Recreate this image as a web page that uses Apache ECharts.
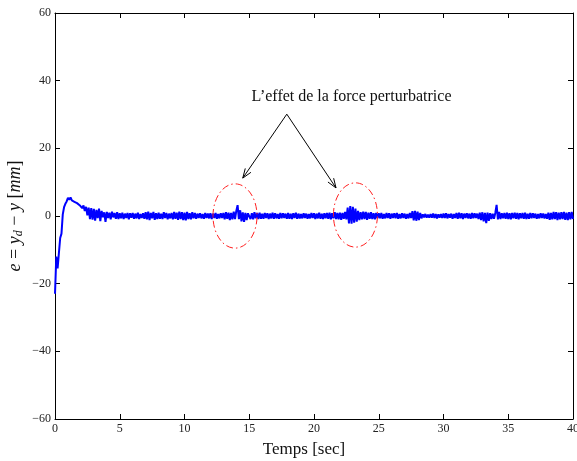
<!DOCTYPE html>
<html>
<head>
<meta charset="utf-8">
<script src="https://cdn.jsdelivr.net/npm/echarts@6/dist/echarts.min.js"></script>
<style>
  html, body { margin: 0; padding: 0; background: #fff; }
  #chart { width: 577px; height: 461px; }
</style>
</head>
<body>
<div id="chart"></div>
<script>
// Tracking error e = y_d - y [mm], sampled every 0.1 s from 0 to 40 s
const sampleStep = 0.1;
const errorMm = [
  -23, -12, -15.5, -11, -6.5, -5.2, 0.5, 2.6, 3.6, 4.3,
  5.4, 4.8, 5.5, 4.6, 5.1, 4.2, 4.7, 3.8, 4.1, 3.2,
  3.5, 2.3, 3.1, 1.5, 2.7, 0.2, 2.5, -0.9, 2.3, -1.1,
  2.1, -1.4, 1.8, -0.6, 2.2, -1.5, 1.5, -0.4, 1.1, -1.7,
  1.2, -0.6, 1.0, -1.0, 1.3, -0.4, 0.9, -0.8, 1.1, -0.9,
  0.8, -0.7, 1.0, -0.9, 0.7, -0.6, 0.9, -1.0, 0.8, -0.5,
  0.9, -0.8, 0.7, -0.7, 1.0, -0.9, 0.6, -0.6, 0.8, -0.8,
  1.1, -1.0, 1.3, -1.2, 0.9, -0.7, 1.2, -1.1, 0.8, -0.9,
  1.0, -0.8, 0.7, -0.9, 1.1, -0.6, 0.9, -1.0, 0.7, -0.7,
  0.9, -1.0, 1.2, -0.8, 1.0, -1.1, 1.3, -0.9, 1.1, -1.2,
  1.0, -1.3, 1.2, -0.9, 0.8, -1.0, 1.1, -0.7, 0.9, -0.8,
  0.7, -0.6, 0.8, -0.7, 0.6, -0.8, 0.9, -0.6, 0.7, -0.7,
  0.8, -0.9, 0.7, -0.6, 0.9, -0.8, 0.6, -0.7, 0.8, -0.6,
  0.9, -1.0, 1.1, -0.8, 1.0, -1.2, 0.9, -1.0, 1.3, -0.9,
  1.5, 3.2, -0.9, 1.7, -1.6, 1.1, -1.7, 0.9, -1.2, 0.8,
  1.0, -0.9, 0.8, -1.0, 1.1, -0.7, 0.9, -0.9, 1.0, -0.8,
  0.7, -0.8, 0.9, -0.6, 0.8, -0.9, 0.7, -0.7, 1.0, -0.8,
  0.8, -0.7, 0.6, -0.8, 0.9, -0.7, 0.8, -0.6, 0.7, -0.8,
  0.9, -0.8, 0.7, -0.9, 0.8, -0.6, 1.0, -0.8, 0.7, -0.7,
  0.6, -0.7, 0.8, -0.6, 0.7, -0.8, 0.6, -0.7, 0.9, -0.6,
  0.8, -0.9, 0.7, -0.7, 1.0, -0.8, 0.7, -0.9, 0.8, -0.7,
  0.9, -0.8, 1.0, -1.0, 0.8, -0.7, 1.1, -0.9, 0.9, -1.0,
  1.0, -1.1, 0.9, -0.8, 1.2, -1.0, 2.5, -2.2, 2.9, -2.3,
  2.7, -2.0, 2.2, -1.7, 1.5, -1.2, 1.1, -1.0, 1.3, -0.9,
  1.2, -1.1, 1.0, -0.8, 1.1, -0.9, 0.8, -1.0, 0.9, -0.7,
  0.8, -0.7, 0.9, -0.8, 0.6, -0.7, 0.9, -0.6, 0.8, -0.8,
  0.7, -0.6, 0.8, -0.7, 0.9, -0.8, 0.6, -0.7, 0.8, -0.6,
  0.7, -0.8, 0.6, -0.7, 0.9, -0.6, 1.4, -1.3, 1.5, -1.4,
  1.3, -1.2, 0.9, -0.7, 0.5, -0.4, 0.6, -0.5, 0.4, -0.5,
  0.6, -0.5, 0.7, -0.6, 0.6, -0.7, 0.5, -0.5, 0.6, -0.6,
  0.7, -0.6, 0.8, -0.7, 0.6, -0.5, 0.7, -0.8, 0.6, -0.6,
  0.9, -0.8, 1.0, -0.7, 0.8, -0.9, 0.7, -0.6, 0.8, -0.7,
  0.7, -0.8, 0.9, -0.7, 0.8, -0.6, 0.7, -0.9, 1.0, -1.2,
  1.1, -1.6, 0.9, -2.1, 1.0, -1.4, 0.8, -0.9, 0.7, -0.8,
  0.9, 3.3, -1.0, 1.2, -0.9, 0.8, -0.7, 0.9, -0.8, 1.0,
  -0.9, 0.8, -1.0, 0.9, -0.7, 1.0, -0.8, 0.9, -1.0, 0.8,
  -0.7, 0.9, -0.8, 1.0, -0.9, 0.7, -0.8, 0.9, -0.7, 0.8,
  -0.6, 0.7, -0.8, 0.6, -0.7, 0.8, -0.6, 0.7, -0.7, 0.6,
  -0.8, 1.0, -1.1, 0.9, -1.0, 1.2, -0.9, 1.1, -1.2, 1.0,
  -1.0, 1.1, -0.9, 1.2, -1.1, 1.0, -1.2, 1.1, -1.0, 1.2,
  -0.9
];

// Axis ranges and ticks
const xTicks = [0, 5, 10, 15, 20, 25, 30, 35, 40];
const yTicks = [-60, -40, -20, 0, 20, 40, 60];

// Annotation anchors in data coordinates [time s, error mm]
const noteText = 'L\u2019effet de la force perturbatrice';
const noteAnchor = [22.9, 35.3];
const arrowOrigin = [17.9, 30.1];
const arrowTips = [[14.5, 11.2], [21.7, 8.3]];
// Disturbance zones: centre and semi-axes [s, mm]
const zoneCentres = [[13.9, 0.0], [23.2, 0.3]];
const zoneRadii = [1.7, 9.5];

const serif = '"Liberation Serif", "DejaVu Serif", serif';
const seriesData = errorMm.map((v, i) => [+(i * sampleStep).toFixed(2), v]);
const minus = s => String(s).replace('-', '\u2212');

const chart = echarts.init(document.getElementById('chart'), null, { renderer: 'canvas' });

const xBase = {
  type: 'value', min: xTicks[0], max: xTicks[xTicks.length - 1], interval: 5,
  axisLine: { onZero: false, lineStyle: { color: '#000', width: 1 } },
  axisTick: { inside: true, length: 5, lineStyle: { color: '#000' } },
  splitLine: { show: false }
};
const yBase = {
  type: 'value', min: yTicks[0], max: yTicks[yTicks.length - 1], interval: 20,
  axisLine: { onZero: false, lineStyle: { color: '#000', width: 1 } },
  axisTick: { inside: true, length: 5, lineStyle: { color: '#000' } },
  splitLine: { show: false }
};

chart.setOption({
  animation: false,
  backgroundColor: '#fff',
  grid: { left: 55, right: 4, top: 13, bottom: 42, outerBoundsMode: 'none', containLabel: false },
  xAxis: [
    Object.assign({}, xBase, {
      position: 'bottom',
      name: 'Temps [sec]', nameLocation: 'middle', nameGap: 22, nameMoveOverlap: false,
      nameTextStyle: { fontFamily: serif, fontSize: 17, color: '#111', padding: [0, 20, 0, 0] },
      axisLabel: { fontFamily: serif, fontSize: 12, color: '#222', margin: 4, formatter: minus }
    }),
    Object.assign({}, xBase, { position: 'top', axisLabel: { show: false } })
  ],
  yAxis: [
    Object.assign({}, yBase, {
      position: 'left',
      name: '{i|e} = {i|y}{s|d} \u2212 {i|y} [{i|mm}]',
      nameLocation: 'middle', nameGap: 30, nameRotate: 90, nameMoveOverlap: false,
      nameTextStyle: {
        fontFamily: serif, fontSize: 18, color: '#111',
        rich: {
          i: { fontFamily: serif, fontSize: 18, fontStyle: 'italic', color: '#111' },
          s: { fontFamily: serif, fontSize: 12, fontStyle: 'italic', color: '#111', padding: [7, 0, 0, 0] }
        }
      },
      axisLabel: { fontFamily: serif, fontSize: 12, color: '#222', margin: 4, formatter: minus }
    }),
    Object.assign({}, yBase, { position: 'right', axisLabel: { show: false } })
  ],
  series: [{
    type: 'line',
    xAxisIndex: 0, yAxisIndex: 0,
    data: seriesData,
    showSymbol: false,
    lineStyle: { color: '#0000ff', width: 2 },
    z: 3
  }]
});

// Annotation overlay positioned through the grid's coordinate system
function toPx(p) { return chart.convertToPixel({ gridIndex: 0 }, p); }

function arrowGraphics(from, to) {
  const a = toPx(from), b = toPx(to);
  const ang = Math.atan2(b[1] - a[1], b[0] - a[0]);
  const len = 10, spread = 0.35;
  const h1 = [b[0] - len * Math.cos(ang - spread), b[1] - len * Math.sin(ang - spread)];
  const h2 = [b[0] - len * Math.cos(ang + spread), b[1] - len * Math.sin(ang + spread)];
  const style = { stroke: '#000', lineWidth: 1, fill: null };
  return [
    { type: 'polyline', shape: { points: [a, b] }, style: style, z: 10 },
    { type: 'polyline', shape: { points: [h1, b, h2] }, style: style, z: 10 }
  ];
}

const graphics = [];
zoneCentres.forEach(c => {
  const p = toPx(c);
  const edge = toPx([c[0] + zoneRadii[0], c[1] + zoneRadii[1]]);
  graphics.push({
    type: 'ellipse',
    shape: { cx: p[0], cy: p[1], rx: Math.abs(edge[0] - p[0]), ry: Math.abs(edge[1] - p[1]) },
    style: { stroke: '#ff2020', lineWidth: 1, fill: null, lineDash: [7, 3, 1.5, 3] },
    z: 9
  });
});
arrowTips.forEach(t => graphics.push.apply(graphics, arrowGraphics(arrowOrigin, t)));
const tp = toPx(noteAnchor);
graphics.push({
  type: 'text', x: tp[0], y: tp[1], z: 10,
  style: { text: noteText, fontFamily: serif, fontSize: 16, fill: '#111', align: 'center', verticalAlign: 'middle' }
});

chart.setOption({ graphic: graphics });
</script>
</body>
</html>
